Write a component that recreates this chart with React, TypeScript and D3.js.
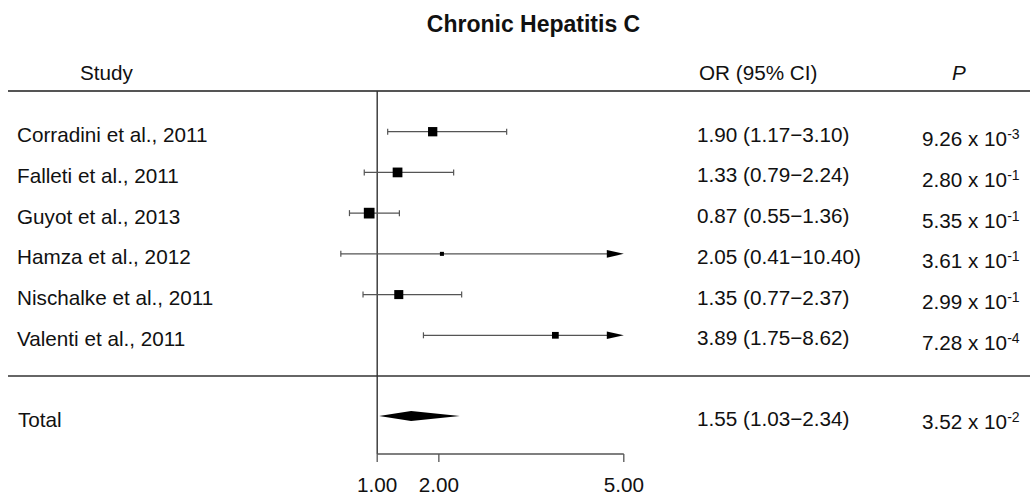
import React from "react";
import * as d3 from "d3";

const title = "Chronic Hepatitis C";
const studies = [
  "Corradini et al., 2011",
  "Falleti et al., 2011",
  "Guyot et al., 2013",
  "Hamza et al., 2012",
  "Nischalke et al., 2011",
  "Valenti et al., 2011",
];
const orValues = [1.9, 1.33, 0.87, 2.05, 1.35, 3.89];
const ciLower = [1.17, 0.79, 0.55, 0.41, 0.77, 1.75];
const ciUpper = [3.1, 2.24, 1.36, 10.4, 2.37, 8.62];
const weights = [19.7, 21.6, 26.1, 3.7, 18.6, 10.3];
const pMantissa = ["9.26", "2.80", "5.35", "3.61", "2.99", "7.28"];
const pExponent = [-3, -1, -1, -1, -1, -4];

const totalLabel = "Total";
const totalOr = 1.55;
const totalLower = 1.03;
const totalUpper = 2.34;
const totalPMantissa = "3.52";
const totalPExponent = -2;

const axisTicks = [1, 2, 5];

const W = 1030;
const H = 496;
const FONT = "'Liberation Sans', Arial, Helvetica, sans-serif";
const TXT = "#111";
const FS = 20.7;

export default function App() {
  const x = d3.scaleLinear().domain([1, 5]).range([377.2, 623.8]);
  const y = d3.scaleLinear().domain([0, studies.length - 1]).range([131.7, 335.3]);
  const totalY = 416;
  const size = d3.scaleSqrt().domain([0, d3.max(weights) as number]).range([0, 10.7]);
  const xMax = x.domain()[1];
  const fmt = d3.format(".2f");

  const lineLeft = 8;
  const lineRight = W;
  const headerLineY = 91;
  const sepLineY = 376;
  const axisY = 454;

  const pText = (m: string, e: number, yy: number, key: string) => (
    <text key={key} x={922} y={yy} fontSize={FS} fill={TXT} fontFamily={FONT}>
      {m} x 10
      <tspan fontSize={14} dy={-7}>
        {String(e)}
      </tspan>
    </text>
  );

  return (
    <svg
      width={W}
      height={H}
      style={{ position: "absolute", left: 0, top: 0, background: "#fff" }}
      fontFamily={FONT}
    >
      <rect x={0} y={0} width={W} height={H} fill="#fff" />
      <text x={533.5} y={31.5} textAnchor="middle" fontSize={23} fontWeight="bold" fill={TXT}>
        {title}
      </text>

      {/* headers */}
      <text x={80} y={80} fontSize={FS} fill={TXT}>Study</text>
      <text x={699} y={80} fontSize={FS} fill={TXT}>OR (95% CI)</text>
      <text x={959} y={80} fontSize={FS} fill={TXT} fontStyle="italic" textAnchor="middle">P</text>

      {/* rules */}
      <line x1={lineLeft} x2={lineRight} y1={headerLineY} y2={headerLineY} stroke="#555" strokeWidth={1.8} />
      <line x1={lineLeft} x2={lineRight} y1={sepLineY} y2={sepLineY} stroke="#666" strokeWidth={1.8} />

      {/* reference line */}
      <line x1={x(1)} x2={x(1)} y1={headerLineY} y2={axisY} stroke="#333" strokeWidth={1.4} />

      {/* study rows */}
      {studies.map((s, i) => {
        const yy = y(i);
        const lo = ciLower[i];
        const hi = ciUpper[i];
        const clipped = hi > xMax;
        const xr = clipped ? x(xMax) - 14 : x(hi);
        const side = size(weights[i]);
        return (
          <g key={s}>
            <text x={17} y={yy + 10.5} fontSize={FS} fill={TXT}>{s}</text>
            <line x1={x(lo)} x2={xr} y1={yy} y2={yy} stroke="#555" strokeWidth={1.3} />
            <line x1={x(lo)} x2={x(lo)} y1={yy - 3} y2={yy + 3} stroke="#555" strokeWidth={1.2} />
            {clipped ? (
              <polygon
                points={`${x(xMax) - 17},${yy - 3.8} ${x(xMax)},${yy} ${x(xMax) - 17},${yy + 3.8}`}
                fill="#000"
              />
            ) : (
              <line x1={x(hi)} x2={x(hi)} y1={yy - 3} y2={yy + 3} stroke="#555" strokeWidth={1.2} />
            )}
            <rect x={x(orValues[i]) - side / 2} y={yy - side / 2} width={side} height={side} fill="#000" />
            <text x={697} y={yy + 10} fontSize={FS} fill={TXT}>
              {`${fmt(orValues[i])} (${fmt(lo)}\u2212${fmt(hi)})`}
            </text>
            {pText(pMantissa[i], pExponent[i], yy + 14.5, "p" + i)}
          </g>
        );
      })}

      {/* total */}
      <text x={18} y={totalY + 11} fontSize={FS} fill={TXT}>{totalLabel}</text>
      <polygon
        points={`${x(totalLower)},${totalY} ${x(totalOr)},${totalY - 5} ${x(totalUpper)},${totalY} ${x(totalOr)},${totalY + 5}`}
        fill="#000"
      />
      <text x={697} y={totalY + 10} fontSize={FS} fill={TXT}>
        {`${fmt(totalOr)} (${fmt(totalLower)}\u2212${fmt(totalUpper)})`}
      </text>
      {pText(totalPMantissa, totalPExponent, totalY + 13, "ptotal")}

      {/* axis */}
      <line x1={x(axisTicks[0])} x2={x(axisTicks[axisTicks.length - 1])} y1={axisY} y2={axisY} stroke="#555" strokeWidth={1.3} />
      {axisTicks.map((t) => (
        <g key={t}>
          <line x1={x(t)} x2={x(t)} y1={axisY} y2={axisY + 8} stroke="#555" strokeWidth={1.3} />
          <text x={x(t)} y={492} textAnchor="middle" fontSize={FS} fill={TXT}>{fmt(t)}</text>
        </g>
      ))}
    </svg>
  );
}
